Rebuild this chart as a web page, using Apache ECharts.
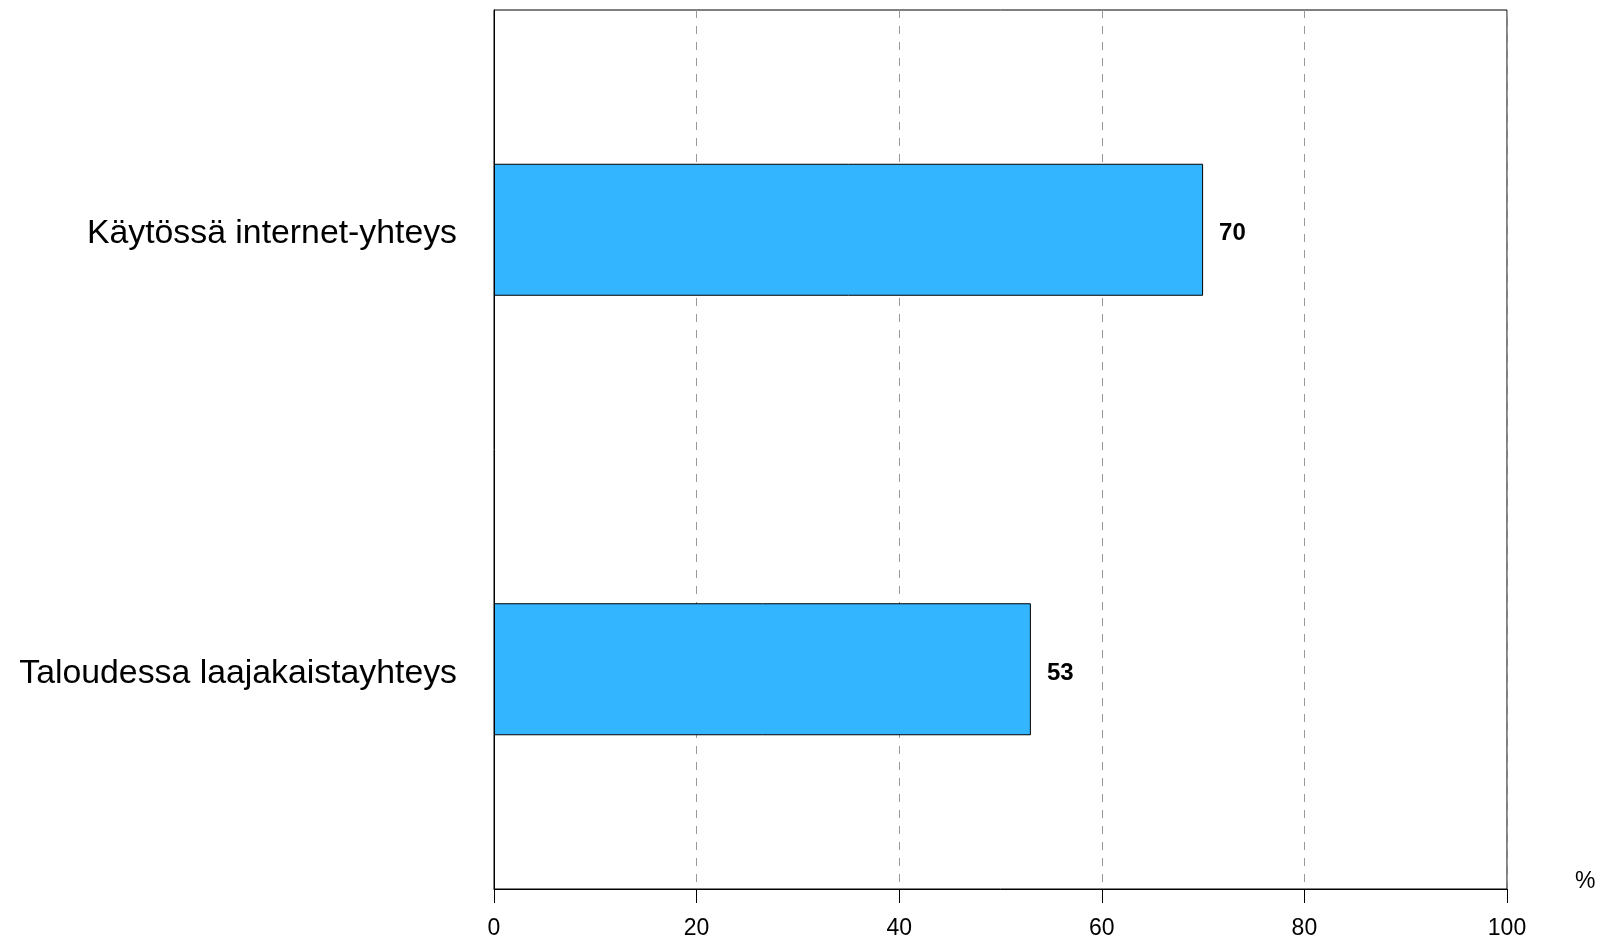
<!DOCTYPE html>
<html>
<head>
<meta charset="utf-8">
<script src="https://cdn.jsdelivr.net/npm/echarts@6/dist/echarts.min.js"></script>
<style>
html,body{margin:0;padding:0;background:#fff;}
#chart{width:1609px;height:937px;}
</style>
</head>
<body>
<div id="chart"></div>
<script>
const categories = ['Käytössä internet-yhteys', 'Taloudessa laajakaistayhteys'];
const values = [70, 53];
const xTicks = [0, 20, 40, 60, 80, 100];
const axisUnit = '%';

const chart = echarts.init(document.getElementById('chart'), null, {renderer: 'canvas'});
const font = '"Liberation Sans", Arial, Helvetica, sans-serif';
chart.setOption({
  animation: false,
  backgroundColor: '#fff',
  grid: {left: 494, right: 102, top: 10, bottom: 48, show: true, borderColor: '#000', borderWidth: 1, containLabel: false, outerBoundsMode: 'none'},
  xAxis: {
    type: 'value',
    min: xTicks[0], max: xTicks[xTicks.length - 1], interval: 20,
    name: axisUnit,
    nameLocation: 'end',
    nameGap: 68,
    nameTextStyle: {fontFamily: font, fontSize: 23, color: '#000', verticalAlign: 'bottom', lineHeight: 15},
    axisLine: {show: true, lineStyle: {color: '#000', width: 1}},
    axisTick: {show: true, length: 14, lineStyle: {color: '#000'}},
    axisLabel: {fontFamily: font, fontSize: 23, color: '#000', margin: 28},
    splitLine: {show: true, lineStyle: {color: '#999', type: [8, 8], width: 1}}
  },
  yAxis: {
    type: 'category',
    data: categories,
    inverse: true,
    axisLine: {show: true, lineStyle: {color: '#000'}},
    axisTick: {show: false},
    axisLabel: {fontFamily: font, fontSize: 33.8, color: '#000', margin: 37, verticalAlign: 'top', lineHeight: 8},
    splitLine: {show: false}
  },
  series: [{
    type: 'bar',
    data: values,
    barWidth: 132,
    itemStyle: {color: '#33B5FF', borderColor: '#000', borderWidth: 1},
    label: {show: true, position: 'right', distance: 16, offset: [0, 4], fontFamily: font, fontSize: 24, fontWeight: 'bold', color: '#000'}
  }]
});
</script>
</body>
</html>
